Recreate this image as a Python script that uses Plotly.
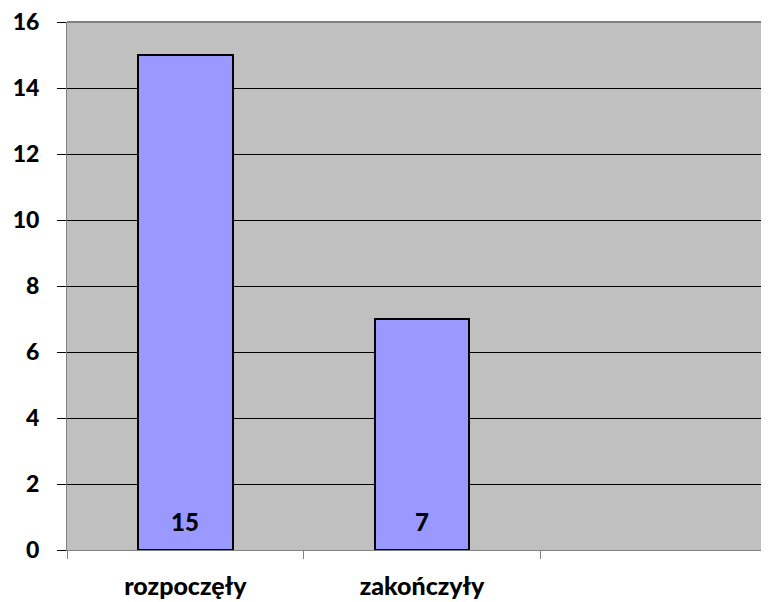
import plotly.graph_objects as go

categories = ["rozpoczęły", "zakończyły"]
values = [15, 7]
y_ticks = [0, 2, 4, 6, 8, 10, 12, 14, 16]

FONT = "Lato"
W = 900

fig = go.Figure()
fig.add_trace(go.Bar(
    x=list(range(len(categories))),
    y=values,
    width=0.40,
    marker=dict(color="#9999FF", line=dict(color="black", width=2)),
    hoverinfo="x+y",
))

# value labels near the base of each bar
for i, v in enumerate(values):
    fig.add_annotation(x=i, y=0, text=str(v), showarrow=False,
                       yanchor="middle", yshift=29,
                       font=dict(family=FONT, size=24, color="black", weight=W))

fig.update_layout(
    width=761, height=594,
    margin=dict(l=59, r=0, t=14, b=52),
    paper_bgcolor="white",
    plot_bgcolor="#C0C0C0",
    showlegend=False,
    font=dict(family=FONT, color="black"),
    xaxis=dict(
        range=[-0.5, 2.466],
        automargin=False,
        tickvals=list(range(len(categories))),
        ticktext=categories,
        ticks="",
        tickfont=dict(family=FONT, size=25, weight=W),
        ticklabelstandoff=14,
        ticklabeloverflow="allow",
        showgrid=False,
        showline=True, linecolor="#808080", linewidth=1,
        zeroline=False,
        minor=dict(tickvals=[-0.5, 0.5, 1.5, 2.5], ticks="outside", ticklen=8,
                   tickcolor="#808080", tickwidth=1, showgrid=False),
    ),
    yaxis=dict(
        range=[0, 16],
        automargin=False,
        tickvals=y_ticks,
        ticks="outside", ticklen=9, tickcolor="black", tickwidth=1,
        tickfont=dict(family=FONT, size=23, weight=W),
        ticklabelstandoff=13,
        ticklabeloverflow="allow",
        showgrid=True, gridcolor="black", gridwidth=1,
        showline=True, linecolor="#808080", linewidth=1,
        zeroline=True, zerolinecolor="black", zerolinewidth=1,
    ),
    bargap=0,
)
fig.add_shape(type="line", xref="paper", yref="paper", x0=0, x1=1, y0=1, y1=1,
              line=dict(color="#808080", width=2))

fig.write_html("out.html")
